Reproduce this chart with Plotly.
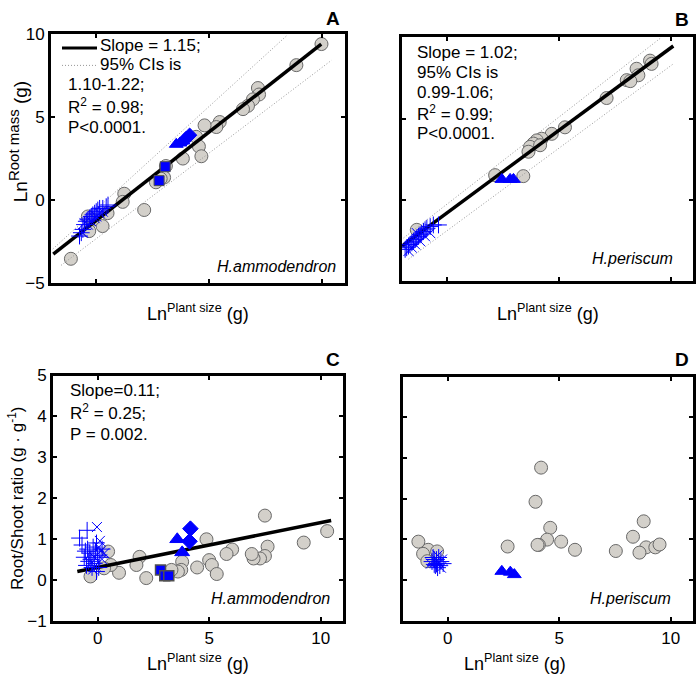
import plotly.graph_objects as go

FONT = "Liberation Sans, Arial, sans-serif"
W, H = 700, 685

# ---------------- Panel A (H.ammodendron, root mass vs plant size) ----------------
a_gray_x = [9.96, 8.85, 7.15, 7.2, 6.93, 6.71, 6.49, 5.46, 5.31, 4.79, 4.42, 4.54, 4.65, 3.83,
            3.08, 3.0, 2.64, 2.85, 1.24, 1.17, 2.12, 0.5, 0.28, -0.16, -0.31, -1.12, -0.37]
a_gray_y = [9.41, 8.14, 6.76, 6.37, 6.08, 5.69, 5.49, 4.71, 4.41, 4.51, 3.82, 3.24, 2.65, 2.51,
            2.06, 1.37, 1.08, 1.3, 0.39, -0.1, -0.59, -0.78, -1.56, -1.18, -1.86, -3.53, -0.98]
a_sq_x = [2.78, 3.05]
a_sq_y = [1.18, 2.02]
a_tri_x = [3.54, 3.7, 3.83]
a_tri_y = [3.37, 3.45, 3.57]
a_dia_x = [3.98, 4.13]
a_dia_y = [3.73, 3.92]
a_plus_x = [-0.74, -0.66, -0.59, -0.52, -0.44, -0.37, -0.29, -0.22, -0.15, -0.07, 0.0, 0.07, 0.15, 0.29, 0.44, 0.52]
a_plus_y = [-2.16, -1.96, -1.76, -1.47, -1.27, -1.18, -1.08, -0.98, -0.88, -0.78, -0.69, -0.59, -0.49, -0.49, -0.39, -0.29]
a_x_x = [-0.52, -0.37, -0.22, -0.07, 0.15, 0.29, -0.59, 0.0]
a_x_y = [-1.37, -1.47, -1.27, -1.08, -0.78, -0.69, -1.96, -0.98]
a_fit_x = [-1.9, 9.95]
a_fit_y = [-3.25, 9.4]
a_ciu_x = [-1.92, 8.41]
a_ciu_y = [-2.94, 9.9]
a_cil_x = [-1.55, 10.4]
a_cil_y = [-3.92, 8.43]

# ---------------- Panel B (H.periscum) ----------------
b_gray_x = [9.08, 9.15, 8.48, 8.56, 8.04, 8.2, 7.14, 5.28, 4.69, 4.24, 4.02, 3.87, 3.72, 3.65, 4.17, 2.16, 3.42, -1.34]
b_gray_y = [8.56, 8.36, 8.06, 7.66, 7.36, 7.3, 6.26, 4.46, 4.06, 3.76, 3.66, 3.46, 3.26, 2.96, 3.36, 1.52, 1.46, -1.84]
b_tri_x = [2.46, 2.83, 2.98]
b_tri_y = [1.26, 1.26, 1.26]
b_plus_x = [-1.86, -1.79, -1.71, -1.64, -1.56, -1.49, -1.41, -1.34, -1.26, -1.19, -1.12, -1.04, -0.97, -0.89, -0.74, -0.60, -0.37]
b_plus_y = [-3.04, -2.94, -2.84, -2.74, -2.64, -2.54, -2.44, -2.34, -2.24, -2.14, -2.04, -1.94, -1.84, -1.74, -1.64, -1.54, -1.54]
b_x_x = [-1.71, -1.56, -1.41, -1.19, -0.97, -0.74, -1.34]
b_x_y = [-3.14, -2.94, -2.74, -2.54, -2.24, -2.04, -2.04]
b_fit_x = [-2.0, 10.12]
b_fit_y = [-2.84, 9.46]
b_ciu_x = [-1.93, 9.6]
b_ciu_y = [-2.34, 10.0]
b_cil_x = [-1.71, 10.12]
b_cil_y = [-3.64, 8.36]

# ---------------- Panel C (H.ammodendron, root/shoot ratio) ----------------
c_gray_x = [10.29, 9.24, 7.5, 7.62, 7.5, 7.28, 6.99, 6.91, 6.03, 5.78, 4.88, 5.0, 5.12, 5.34, 4.46, 3.79, 3.75,
            3.6, 3.31, 2.18, 1.88, 1.74, 0.96, 0.59, 0.47, 0.29, -0.32]
c_gray_y = [1.19, 0.91, 1.57, 0.81, 0.58, 0.52, 0.52, 0.63, 0.74, 0.63, 0.99, 0.48, 0.36, 0.14, 0.30, 0.44, 0.24,
            0.20, 0.24, 0.04, 0.56, 0.36, 0.17, 0.36, 0.69, 0.28, 0.08]
c_tri_x = [3.57, 3.79]
c_tri_y = [0.99, 0.67]
c_dia_x = [4.16, 4.12]
c_dia_y = [1.25, 0.94]
c_sq_x = [2.82, 3.01, 3.19]
c_sq_y = [0.24, 0.10, 0.10]
c_plus_x = [-0.81, -0.47, -0.7, -0.55, -0.6, -0.45, -0.35, -0.3, -0.2, -0.15, -0.05, 0.0, 0.05, -0.25, -0.4, -0.1, 0.1, -0.5, 0.2, -0.05]
c_plus_y = [1.02, 1.21, 0.85, 0.7, 0.55, 0.75, 0.65, 0.5, 0.8, 0.4, 0.9, 0.6, 0.3, 0.3, 0.45, 0.7, 0.55, 0.35, 0.75, 0.2]
c_x_x = [-0.03, 0.15, -0.15, 0.05, -0.3, 0.2, -0.1, 0.3, -0.2, 0.1]
c_x_y = [1.29, 0.7, 0.55, 0.8, 0.4, 0.5, 0.35, 0.65, 0.25, 0.95]
c_fit_x = [-0.91, 10.47]
c_fit_y = [0.20, 1.45]

# ---------------- Panel D (H.periscum, root/shoot ratio) ----------------
d_gray_x = [4.19, 3.94, 4.60, 4.46, 4.09, 4.03, 5.09, 5.71, 2.69, 7.54, 8.79, 8.31, 8.90, 8.60, 9.31, 9.50,
            -1.31, -0.87, -1.10, -0.47, -0.91]
d_gray_y = [2.76, 1.92, 1.28, 0.99, 0.86, 0.86, 0.94, 0.74, 0.82, 0.71, 1.44, 1.06, 0.80, 0.67, 0.80, 0.87,
            0.94, 0.74, 0.64, 0.70, 0.46]
d_tri_x = [2.43, 2.81, 2.99]
d_tri_y = [0.21, 0.19, 0.13]
d_plus_x = [-0.7, -0.6, -0.5, -0.4, -0.3, -0.55, -0.45, -0.35, -0.65, -0.2, -0.5, -0.6]
d_plus_y = [0.45, 0.5, 0.4, 0.55, 0.45, 0.35, 0.3, 0.35, 0.55, 0.4, 0.5, 0.38]
d_x_x = [-0.4, -0.3, -0.75, -0.45, -0.55, -0.25]
d_x_y = [0.42, 0.3, 0.4, 0.6, 0.45, 0.5]

# ---------------- styles ----------------
GRAY_FILL = "rgb(211,208,202)"
GRAY_EDGE = "rgb(105,105,105)"
BLUE = "rgb(0,0,255)"

fig = go.Figure()


def gray(x, y, xa, ya):
    fig.add_trace(go.Scatter(x=x, y=y, xaxis=xa, yaxis=ya, mode="markers",
                             marker=dict(symbol="circle", size=13, color=GRAY_FILL,
                                         line=dict(color=GRAY_EDGE, width=1))))


def line(x, y, xa, ya, dotted=False):
    if dotted:
        ln = dict(color="rgb(150,150,150)", width=1, dash="1px,2px")
    else:
        ln = dict(color="black", width=3.5)
    fig.add_trace(go.Scatter(x=x, y=y, xaxis=xa, yaxis=ya, mode="lines", line=ln))


def blue(x, y, xa, ya, symbol, size, edge=BLUE, ew=1):
    fig.add_trace(go.Scatter(x=x, y=y, xaxis=xa, yaxis=ya, mode="markers",
                             marker=dict(symbol=symbol, size=size, color=BLUE,
                                         line=dict(color=edge, width=ew))))


# Panel A
gray(a_gray_x, a_gray_y, "x", "y")
line(a_ciu_x, a_ciu_y, "x", "y", True)
line(a_cil_x, a_cil_y, "x", "y", True)
line(a_fit_x, a_fit_y, "x", "y")
blue(a_sq_x, a_sq_y, "x", "y", "square", 10, "rgb(80,80,80)")
blue(a_tri_x, a_tri_y, "x", "y", "triangle-up", 12)
blue(a_dia_x, a_dia_y, "x", "y", "diamond", 11)
blue(a_plus_x, a_plus_y, "x", "y", "cross-thin-open", 12)
blue(a_x_x, a_x_y, "x", "y", "x-thin-open", 10)

# Panel B
gray(b_gray_x, b_gray_y, "x2", "y2")
line(b_ciu_x, b_ciu_y, "x2", "y2", True)
line(b_cil_x, b_cil_y, "x2", "y2", True)
line(b_fit_x, b_fit_y, "x2", "y2")
blue(b_tri_x, b_tri_y, "x2", "y2", "triangle-up", 12)
blue(b_plus_x, b_plus_y, "x2", "y2", "cross-thin-open", 12)
blue(b_x_x, b_x_y, "x2", "y2", "x-thin-open", 10)

# Panel C
gray(c_gray_x, c_gray_y, "x3", "y3")
line(c_fit_x, c_fit_y, "x3", "y3")
blue(c_sq_x, c_sq_y, "x3", "y3", "square", 10, "rgb(80,80,80)", 1.5)
blue(c_tri_x, c_tri_y, "x3", "y3", "triangle-up", 13)
blue(c_dia_x, c_dia_y, "x3", "y3", "diamond", 12)
blue(c_plus_x, c_plus_y, "x3", "y3", "cross-thin-open", 12)
blue(c_x_x, c_x_y, "x3", "y3", "x-thin-open", 10)

# Panel D
gray(d_gray_x, d_gray_y, "x4", "y4")
blue(d_tri_x, d_tri_y, "x4", "y4", "triangle-up", 12)
blue(d_plus_x, d_plus_y, "x4", "y4", "cross-thin-open", 12)
blue(d_x_x, d_x_y, "x4", "y4", "x-thin-open", 10)


def fx(p):
    return p / W


def fy(p):
    return 1 - p / H


def axis(domain, rng, tickvals, labels=True, anchor=None):
    d = dict(domain=domain, range=rng, tickvals=tickvals, showline=True, linecolor="black",
             linewidth=3, mirror="ticks", ticks="inside", ticklen=4, tickwidth=2,
             tickcolor="black", showgrid=False, zeroline=False, showticklabels=labels,
             tickfont=dict(size=17, family=FONT, color="black"), fixedrange=True)
    if anchor:
        d["anchor"] = anchor
    return d


XT = [0, 5, 10]
fig.update_layout(
    width=W, height=H, autosize=False, showlegend=False,
    margin=dict(l=0, r=0, t=0, b=0),
    paper_bgcolor="white", plot_bgcolor="white",
    font=dict(family=FONT, size=17, color="black"),
    xaxis=axis([fx(51), fx(345)], [-2, 11], XT, False, "y"),
    yaxis=axis([fy(282), fy(26)], [-5, 10], [-5, 0, 5, 10], True, "x"),
    xaxis2=axis([fx(402), fx(693)], [-2, 11], XT, False, "y2"),
    yaxis2=axis([fy(280), fy(29)], [-5, 10], [-5, 0, 5, 10], False, "x2"),
    xaxis3=axis([fx(53), fx(343)], [-2, 11], XT, True, "y3"),
    yaxis3=axis([fy(629), fy(377)], [-1, 5], [-1, 0, 1, 2, 3, 4, 5], True, "x3"),
    xaxis4=axis([fx(403), fx(693)], [-2, 11], XT, True, "y4"),
    yaxis4=axis([fy(629), fy(378)], [-1, 5], [-1, 0, 1, 2, 3, 4, 5], False, "x4"),
)

ann = []


def txt(x, y, s, size=17, xanchor="left", yanchor="middle", angle=0, bold=False, italic=False):
    t = s
    if bold:
        t = "<b>" + t + "</b>"
    if italic:
        t = "<i>" + t + "</i>"
    ann.append(dict(x=fx(x), y=fy(y), xref="paper", yref="paper", text=t, showarrow=False,
                    xanchor=xanchor, yanchor=yanchor, textangle=angle,
                    font=dict(size=size, family=FONT, color="black")))


# Panel letters
txt(333, 10, "A", 19, "center", bold=True)
txt(682, 11, "B", 19, "center", bold=True)
txt(333, 361, "C", 19, "center", bold=True)
txt(682, 361, "D", 19, "center", bold=True)

# Panel A stats
txt(98, 38, "Slope = 1.15;")
txt(98, 57, "95% CIs is")
txt(66, 78, "1.10-1.22;")
txt(66, 100, "R<sup>2</sup> = 0.98;")
txt(66, 122, "P<0.0001.")
# Panel B stats
txt(415, 45, "Slope = 1.02;")
txt(415, 65, "95% CIs is")
txt(415, 86, "0.99-1.06;")
txt(415, 107, "R<sup>2</sup> = 0.99;")
txt(415, 128, "P<0.0001.")
# Panel C stats
txt(68, 392, "Slope=0.11;")
txt(68, 415, "R<sup>2</sup> = 0.25;")
txt(68, 438, "P = 0.002.")

# species
txt(338, 265, "H.ammodendron", 16, "right", italic=True)
txt(675, 257, "H.periscum", 16, "right", italic=True)
txt(332, 606, "H.ammodendron", 16, "right", italic=True)
txt(673, 606, "H.periscum", 16, "right", italic=True)

# axis titles
XTITLE = "Ln<sup>Plant size</sup> (g)"
txt(198, 312, XTITLE, 18, "center")
txt(548, 312, XTITLE, 18, "center")
txt(198, 672, XTITLE, 18, "center")
txt(515, 672, XTITLE, 18, "center")
txt(18, 137, "Ln<sup><span style='font-size:15px'>Root mass</span></sup> (g)", 19, "center", angle=-90)
txt(16, 503, "Root/Shoot ratio (g · g<sup>-1</sup>)", 17, "center", angle=-90)

fig.update_layout(annotations=ann)

# legend sample lines (panel A)
fig.add_shape(type="line", xref="paper", yref="paper", x0=fx(62), x1=fx(97), y0=fy(40), y1=fy(40),
              line=dict(color="black", width=3))
fig.add_shape(type="line", xref="paper", yref="paper", x0=fx(62), x1=fx(97), y0=fy(58), y1=fy(58),
              line=dict(color="rgb(150,150,150)", width=1, dash="1px,2px"))

fig.write_html("out.html", config={"displayModeBar": False},
               post_script="document.documentElement.style.margin='0px';document.body.style.margin='0px';document.body.style.padding='0px';document.body.style.overflow='hidden';")
